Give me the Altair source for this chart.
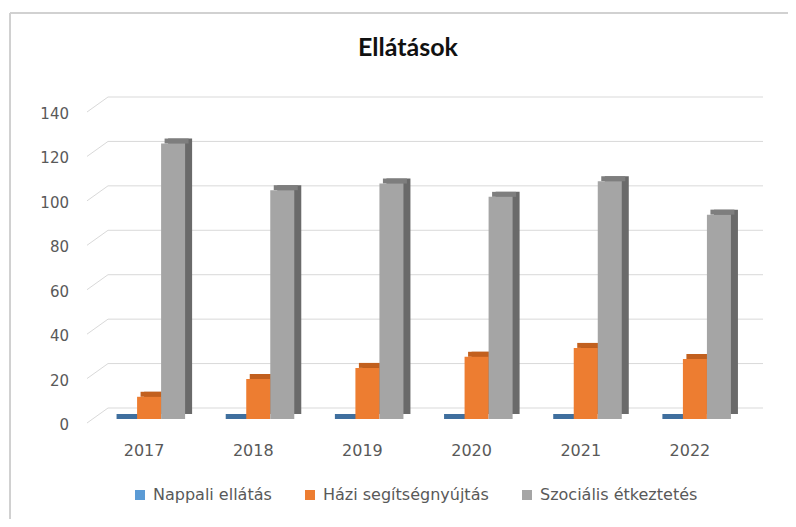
import altair as alt
import pandas as pd

title_text = ["Ellátások"]
years = ["2017", "2018", "2019", "2020", "2021", "2022"]
series = ["Nappali ellátás", "Házi segítségnyújtás", "Szociális étkeztetés"]
nappali = [0, 0, 0, 0, 0, 0]
hazi = [10, 18, 23, 28, 32, 27]
szoc = [124, 103, 106, 100, 107, 92]
y_ticks = [0, 20, 40, 60, 80, 100, 120, 140]

front_colors = ["#5B9BD5", "#ED7D31", "#A5A5A5"]
top_colors = ["#3F6F9E", "#C2601E", "#7E7E7E"]
side_colors = ["#3A6690", "#B0561A", "#6A6A6A"]

rows = []
for i, yr in enumerate(years):
    for s, vals in zip(series, [nappali, hazi, szoc]):
        rows.append({"year": yr, "series": s, "value": vals[i]})
df = pd.DataFrame(rows)
grid_df = pd.DataFrame({"v": y_ticks})
year_df = pd.DataFrame({"year": years})
title_df = pd.DataFrame({"t": title_text})

W, H = 655, 311
PI, PO = 0.34, 0.17
step = W / (len(years) - PI + 2 * PO)
BW = step * (1 - PI)
DX, DY = 7, 5

FONT = "DejaVu Sans"
LABEL_COLOR = "#595959"
GRID_COLOR = "#D9D9D9"

xscale = alt.Scale(domain=years, paddingInner=PI, paddingOuter=PO)
yscale = alt.Scale(domain=[0, 140], nice=False, zero=True)


def xo(shift):
    return alt.XOffset("series:N", sort=series,
                       scale=alt.Scale(domain=series, range=[shift, shift + BW],
                                       paddingInner=0, paddingOuter=0))


base = alt.Chart(df)

# back-wall gridlines
grid = alt.Chart(grid_df).mark_rule(color=GRID_COLOR, strokeWidth=1, yOffset=-11).encode(
    y=alt.Y("v:Q", scale=yscale, axis=None),
    x=alt.value(13.5),
    x2=alt.value(668.5),
)
# perspective diagonals on the left wall
diag = alt.Chart(grid_df).mark_rule(color=GRID_COLOR, strokeWidth=1, yOffset=4, y2Offset=-11).encode(
    y=alt.Y("v:Q", scale=yscale, axis=None),
    y2="v:Q",
    x=alt.value(-7.5),
    x2=alt.value(13.5),
)
# y axis labels
ylabels = alt.Chart(grid_df).mark_text(align="right", baseline="middle", dy=6,
                                       font=FONT, fontSize=15, color=LABEL_COLOR).encode(
    y=alt.Y("v:Q", scale=yscale, axis=None),
    x=alt.value(-25.5),
    text="v:Q",
)
# x axis labels
xlabels = alt.Chart(year_df).mark_text(align="center", baseline="middle", dx=-5,
                                       font=FONT, fontSize=16, color=LABEL_COLOR).encode(
    x=alt.X("year:N", sort=years, scale=xscale, axis=None),
    y=alt.value(H + 32),
    text="year:N",
)
# title
title = alt.Chart(title_df).mark_text(align="center", baseline="alphabetic", font="Lato",
                                      fontSize=25, fontWeight="bold", color="#111111").encode(
    x=alt.value(313.5),
    y=alt.value(-52),
    text="t:N",
)
# chart frame (left and top edges)
frame_left = alt.Chart(grid_df).mark_rule(color="#D0D0D0", strokeWidth=1).encode(
    x=alt.value(-84.5), y=alt.value(-95), y2=alt.value(419)
)
frame_top = alt.Chart(grid_df).mark_rule(color="#D0D0D0", strokeWidth=1.5).encode(
    x=alt.value(-84.5), x2=alt.value(701.5), y=alt.value(-95)
)

side = base.mark_bar(yOffset=-DY, y2Offset=-DY).encode(
    x=alt.X("year:N", sort=years, scale=xscale, axis=None),
    xOffset=xo(DX),
    y=alt.Y("value:Q", scale=yscale, axis=None),
    color=alt.Color("series:N", sort=series,
                    scale=alt.Scale(domain=series, range=side_colors), legend=None),
)

top = base.mark_bar(yOffset=-DY, y2Offset=0).encode(
    x=alt.X("year:N", sort=years, scale=xscale, axis=None),
    xOffset=xo(DX / 2),
    y=alt.Y("value:Q", scale=yscale, axis=None),
    y2="value:Q",
    color=alt.Color("series:N", sort=series,
                    scale=alt.Scale(domain=series, range=top_colors), legend=None),
)

front = base.mark_bar().encode(
    x=alt.X("year:N", sort=years, scale=xscale, axis=None),
    xOffset=xo(0),
    y=alt.Y("value:Q", scale=yscale, axis=None),
    color=alt.Color("series:N", sort=series,
                    scale=alt.Scale(domain=series, range=front_colors),
                    legend=alt.Legend(orient="none", legendX=37.5, legendY=379,
                                      direction="horizontal", title=None,
                                      symbolType="square", symbolSize=100,
                                      symbolStrokeWidth=0, labelFont=FONT,
                                      labelFontSize=16, labelColor=LABEL_COLOR,
                                      labelOffset=5, labelLimit=400, columnPadding=30)),
)

chart = alt.layer(frame_left, frame_top, grid, diag, ylabels, xlabels, title,
                  side, top, front).resolve_scale(
    xOffset="independent", color="independent"
).properties(
    width=W,
    height=H,
    padding={"left": 86.5, "top": 100, "right": 38, "bottom": 100},
    autosize=alt.AutoSizeParams(type="none"),
    background="white",
).configure_view(stroke=None)

chart.save("out.html", embed_options={"renderer": "svg", "actions": False})
